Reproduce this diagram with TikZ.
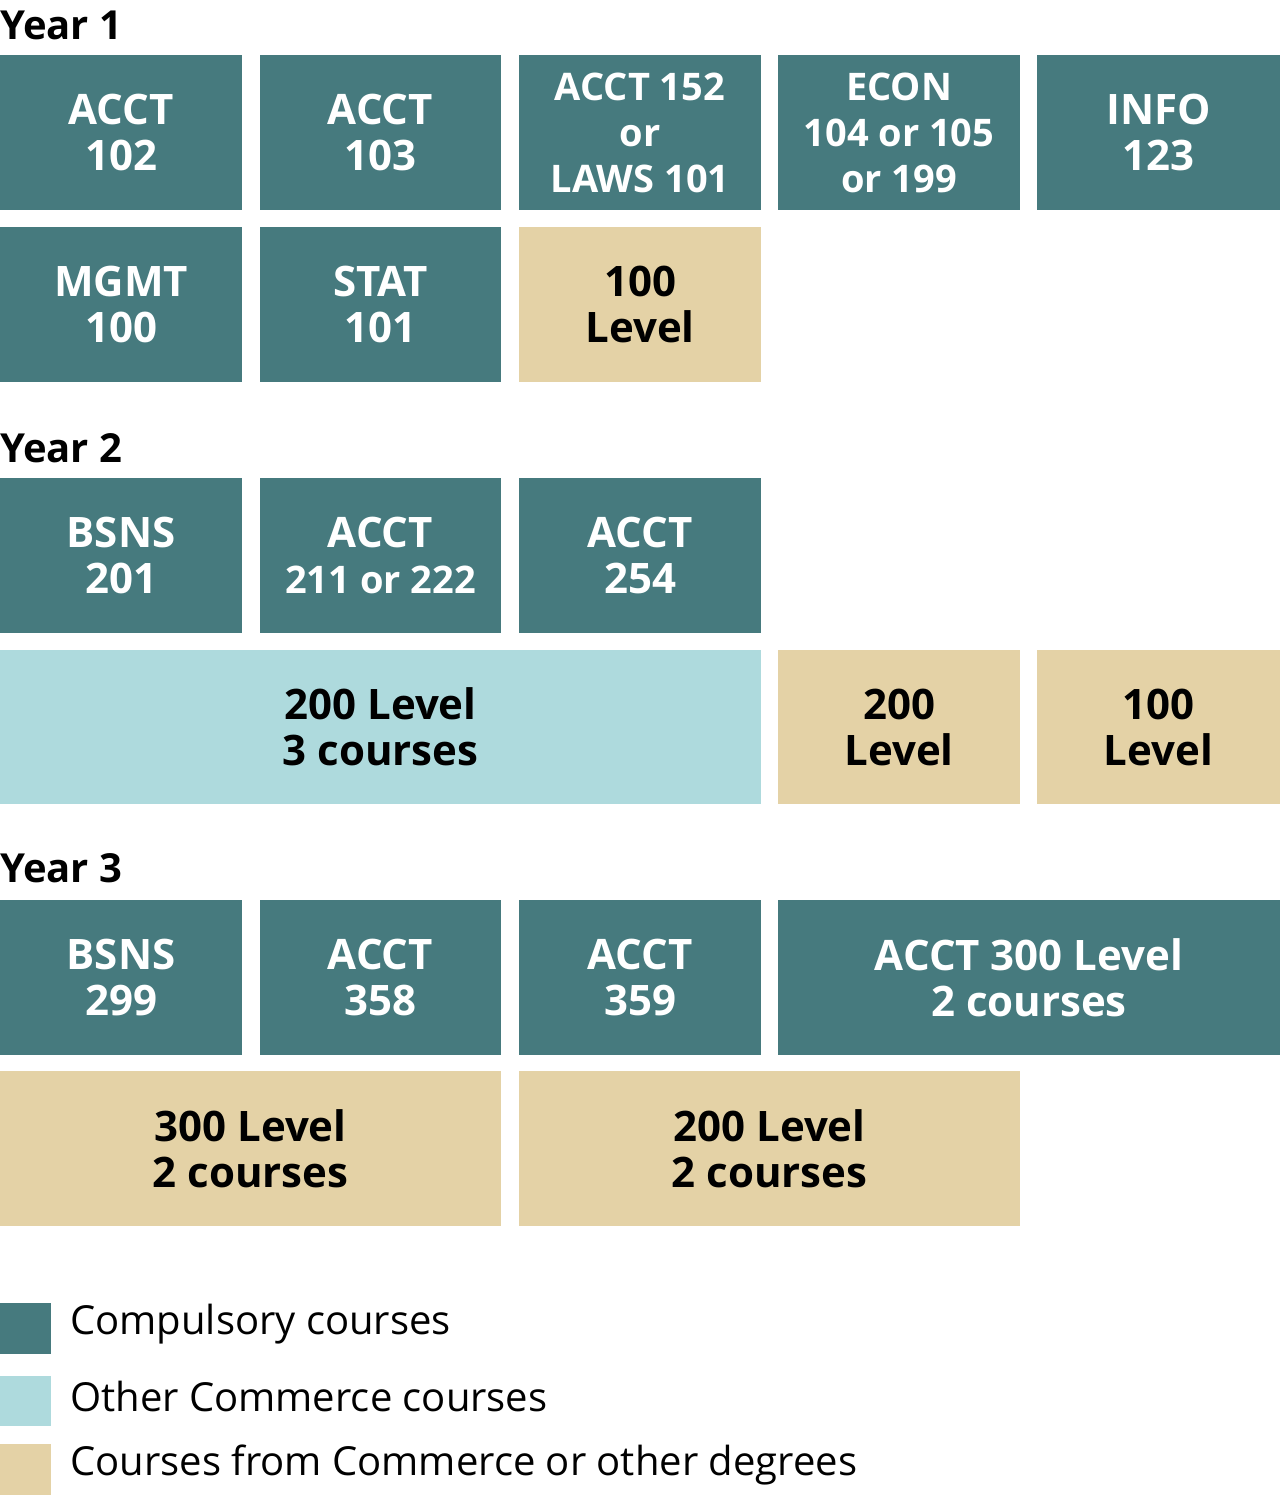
\documentclass[tikz,border=0pt]{standalone}
\usepackage{fontspec}
\setmainfont{Open Sans}
\definecolor{teal}{HTML}{467A7E}
\definecolor{lblue}{HTML}{AEDADD}
\definecolor{tan}{HTML}{E4D2A6}
\begin{document}
\begin{tikzpicture}[x=1pt,y=-1pt,
 cbox/.style={fill=teal,text=white},
 obox/.style={fill=lblue,text=black},
 tbox/.style={fill=tan,text=black},
 lab/.style={anchor=center,align=center,font=\fontsize{42}{46}\selectfont\bfseries},
 ylab/.style={anchor=west,font=\fontsize{40}{44}\selectfont\bfseries,inner sep=0pt},
 leg/.style={anchor=west,font=\fontsize{40}{44}\selectfont,inner sep=0pt}]
\useasboundingbox (0,0) rectangle (1280,1497);
\newcommand{\bx}[7]{\fill[#1] (#2,#3) rectangle (#4,#5); \node[lab,text=#6] (#7) at ({(#2+#4)/2},{(#3+#5)/2}) {};}
\def\B#1#2#3#4#5#6#7#8{\path[fill=#1] (#2,#3) rectangle (#4,#5); \node[lab,text=#6] (#7) at ({(#2+#4)/2},{(#3+#5)/2}) {#8};}
\node[ylab] (y1) at (0,25) {Year 1};
\B{teal}{0}{55}{242}{210}{white}{a1}{ACCT\\102}
\B{teal}{260}{55}{501}{210}{white}{a2}{ACCT\\103}
\B{teal}{519}{55}{761}{210}{white}{a3}{\fontsize{38}{39}\selectfont ACCT 152\\\fontsize{38}{39}\selectfont or\\\fontsize{38}{39}\selectfont LAWS 101}
\B{teal}{778}{55}{1020}{210}{white}{a4}{\fontsize{38}{39}\selectfont ECON\\\fontsize{38}{39}\selectfont 104 or 105\\\fontsize{38}{39}\selectfont or 199}
\B{teal}{1037}{55}{1280}{210}{white}{a5}{INFO\\123}
\B{teal}{0}{227}{242}{382}{white}{b1}{MGMT\\100}
\B{teal}{260}{227}{501}{382}{white}{b2}{STAT\\101}
\B{tan}{519}{227}{761}{382}{black}{b3}{100\\Level}
\node[ylab] (y2) at (0,448) {Year 2};
\B{teal}{0}{478}{242}{633}{white}{c1}{BSNS\\201}
\B{teal}{260}{478}{501}{633}{white}{c2}{ACCT\\\fontsize{38}{46}\selectfont 211 or 222}
\B{teal}{519}{478}{761}{633}{white}{c3}{ACCT\\254}
\B{lblue}{0}{650}{761}{804}{black}{d1}{200 Level\\3 courses}
\B{tan}{778}{650}{1020}{804}{black}{d2}{200\\Level}
\B{tan}{1037}{650}{1280}{804}{black}{d3}{100\\Level}
\node[ylab] (y3) at (0,868) {Year 3};
\B{teal}{0}{900}{242}{1055}{white}{e1}{BSNS\\299}
\B{teal}{260}{900}{501}{1055}{white}{e2}{ACCT\\358}
\B{teal}{519}{900}{761}{1055}{white}{e3}{ACCT\\359}
\B{teal}{778}{900}{1280}{1055}{white}{e4}{ACCT 300 Level\\2 courses}
\B{tan}{0}{1071}{501}{1226}{black}{f1}{300 Level\\2 courses}
\B{tan}{519}{1071}{1020}{1226}{black}{f2}{200 Level\\2 courses}
\fill[teal] (0,1303) rectangle (51,1354);
\fill[lblue] (0,1376) rectangle (51,1426);
\fill[tan] (0,1444) rectangle (51,1495);
\node[leg] (l1) at (70,1324) {Compulsory courses};
\node[leg] (l2) at (70,1396) {Other Commerce courses};
\node[leg] (l3) at (70,1465) {Courses from Commerce or other degrees};
\end{tikzpicture}
\end{document}
